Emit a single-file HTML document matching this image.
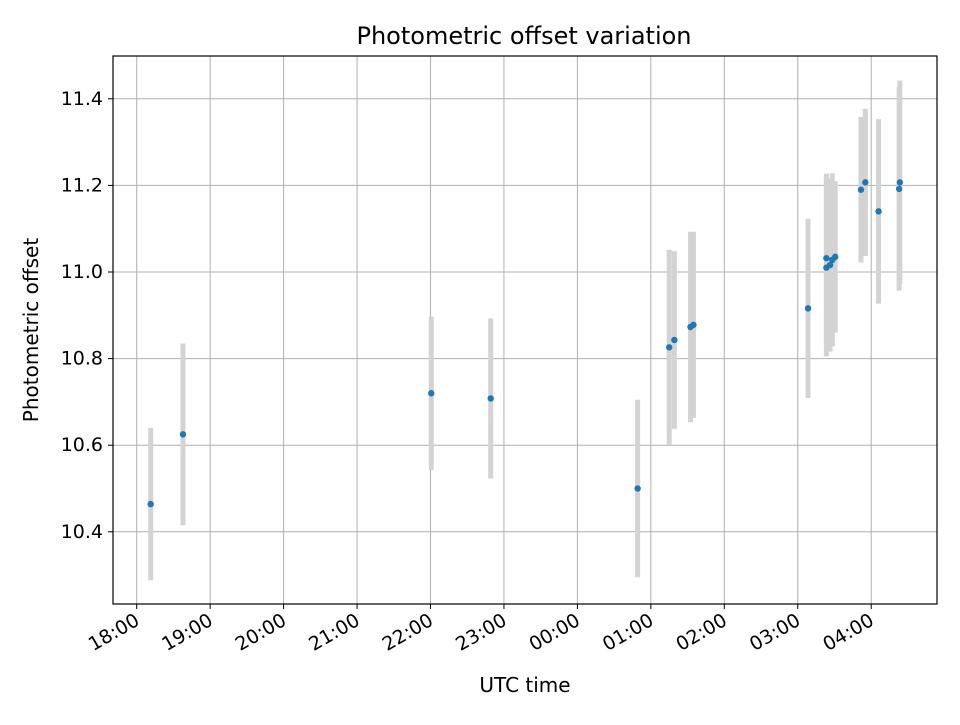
<!DOCTYPE html>
<html><head><meta charset="utf-8"><style>
body{margin:0;background:#fff}
text{font-family:"DejaVu Sans","Liberation Sans",sans-serif;fill:#000}
</style></head><body>
<svg id="chart" width="960" height="720" xmlns="http://www.w3.org/2000/svg">
<rect width="960" height="720" fill="#fff"/>
<text x="524" y="44" font-size="24" text-anchor="middle">Photometric offset variation</text>
<text x="525" y="692" font-size="20" text-anchor="middle">UTC time</text>
<text x="38" y="330" font-size="20" text-anchor="middle" transform="rotate(-90 38 330)">Photometric offset</text>
<g id="grid"></g><g id="errs"></g><g id="pts"></g><g id="axes"></g>
</svg>
<script>
// hours since 18:00 UTC
const times=[0.19,0.63,4.01,4.82,6.82,7.25,7.32,7.54,7.58,9.14,9.39,9.39,9.44,9.47,9.51,9.86,9.92,10.10,10.38,10.39];
const values=[10.464,10.625,10.720,10.708,10.500,10.826,10.843,10.873,10.878,10.916,11.010,11.032,11.016,11.028,11.035,11.190,11.207,11.140,11.192,11.207];
const errors=[0.176,0.21,0.177,0.185,0.205,0.225,0.205,0.22,0.215,0.207,0.205,0.195,0.2,0.2,0.175,0.168,0.17,0.213,0.235,0.235];
const yTicks=[10.4,10.6,10.8,11.0,11.2,11.4];
const xTickLabels=["18:00","19:00","20:00","21:00","22:00","23:00","00:00","01:00","02:00","03:00","04:00"];
const L=113,R=937,T=56,B=604;
const xs=h=>136.7+h*73.45;
const ys=v=>272-(v-11)*433;
const NS="http://www.w3.org/2000/svg";
function mk(p,tag,a){const e=document.createElementNS(NS,tag);for(const k in a)e.setAttribute(k,a[k]);p.appendChild(e);return e;}
const grid=document.getElementById('grid'),errs=document.getElementById('errs'),pts=document.getElementById('pts'),axes=document.getElementById('axes');
yTicks.forEach(v=>{const y=ys(v);
 const g=mk(grid,'line',{x1:L,x2:R,y1:y,y2:y,stroke:'#b0b0b0','stroke-width':1});
 
 mk(axes,'line',{x1:L-5,x2:L,y1:y,y2:y,stroke:'#000','stroke-width':1});
 const t=mk(axes,'text',{x:L-10,y:y+6,'font-size':19,'text-anchor':'end'});t.textContent=v.toFixed(1);
 
});
xTickLabels.forEach((s,i)=>{const x=xs(i);
 const g=mk(grid,'line',{x1:x,x2:x,y1:T,y2:B,stroke:'#b0b0b0','stroke-width':1});
 
 mk(axes,'line',{x1:x,x2:x,y1:B,y2:B+5,stroke:'#000','stroke-width':1});
 const t=mk(axes,'text',{x:x+4,y:B+20,'font-size':19,'text-anchor':'end',transform:`rotate(-30 ${x+4} ${B+20})`});t.textContent=s;
 
});
times.forEach((h,i)=>{const x=xs(h);
 const e=mk(errs,'line',{x1:x,x2:x,y1:ys(values[i]-errors[i]),y2:ys(values[i]+errors[i]),stroke:'#d3d3d3','stroke-width':5});
 
 const c=mk(pts,'circle',{cx:x,cy:ys(values[i]),r:3.2,fill:'#1f77b4'});
 
});
const f=mk(axes,'rect',{x:L,y:T,width:R-L,height:B-T,fill:'none',stroke:'#000','stroke-width':1.2});

</script>
</body></html>
